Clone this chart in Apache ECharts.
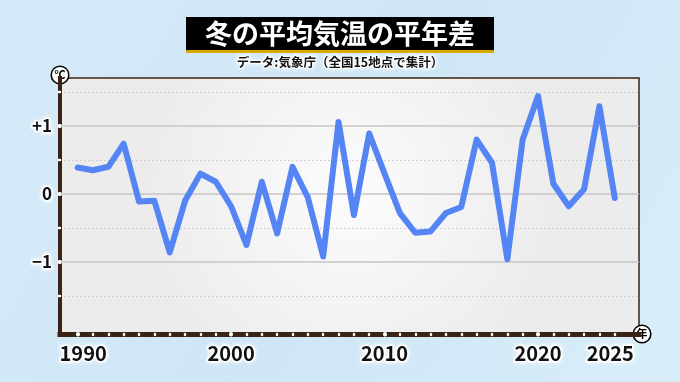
<!DOCTYPE html>
<html>
<head>
<meta charset="utf-8">
<script src="https://cdn.jsdelivr.net/npm/echarts@6/dist/echarts.min.js"></script>
<style>
html,body{margin:0;padding:0;background:#d3e9f8;}
#c{width:680px;height:382px;}
</style>
</head>
<body>
<div id="c"></div>
<script>
const titleText = '冬の平均気温の平年差';
const subtitleText = 'データ:気象庁（全国15地点で集計）';
const years = [1990,1991,1992,1993,1994,1995,1996,1997,1998,1999,
               2000,2001,2002,2003,2004,2005,2006,2007,2008,2009,
               2010,2011,2012,2013,2014,2015,2016,2017,2018,2019,
               2020,2021,2022,2023,2024,2025];
const anomalies = [0.39,0.35,0.40,0.74,-0.11,-0.10,-0.86,-0.10,0.30,0.18,
                   -0.18,-0.75,0.18,-0.58,0.40,-0.05,-0.92,1.06,-0.31,0.89,
                   0.30,-0.28,-0.57,-0.55,-0.28,-0.19,0.80,0.46,-0.96,0.80,
                   1.44,0.15,-0.18,0.07,1.29,-0.06];
const xLabelYears = [1990,2000,2010,2020,2025];
const xMajorYears = [1990,2000,2010,2020];
const yMajorTicks = [-1,0,1];
const yMinorTicks = [-1.5,-0.5,0.5,1.5];
const yUnit = '℃';
const xUnit = '年';

const FONT = '"Noto Sans CJK JP","Noto Sans",sans-serif';
const BROWN = '#3a2315';
const X_MIN = 1988.85, X_MAX = 2026.58;
const Y_MIN = -2.059, Y_MAX = 1.706;

const circleRich = {
  c: {
    fontFamily: FONT, fontSize: 11, fontWeight: 'bold', color: '#000',
    backgroundColor: '#fff', borderColor: '#000', borderWidth: 1.6,
    borderRadius: 9, width: 16, height: 16, lineHeight: 16,
    align: 'center', verticalAlign: 'middle', padding: 0
  }
};
const glowLabel = {
  fontFamily: FONT, fontWeight: 'bold', color: '#111',
  textBorderColor: 'rgba(255,255,255,0.95)', textBorderWidth: 3,
  textShadowColor: 'rgba(255,255,255,0.9)', textShadowBlur: 4
};
const xLabelRich = {
  n: Object.assign({fontSize: 20}, glowLabel),
  l: Object.assign({fontSize: 20, padding: [0, 0, 0, 11]}, glowLabel),
  r: Object.assign({fontSize: 20, padding: [0, 9, 0, 0]}, glowLabel)
};

const chart = echarts.init(document.getElementById('c'), null, {renderer: 'canvas'});
chart.setOption({
  animation: false,
  backgroundColor: {
    type: 'linear', x: 0, y: 0, x2: 1, y2: 1,
    colorStops: [{offset: 0, color: '#d6ebf9'}, {offset: 0.5, color: '#cfe6f6'}, {offset: 1, color: '#d9edf9'}]
  },
  title: [{
    text: titleText, left: 'center', top: 17,
    padding: [3, 19, 3, 19],
    backgroundColor: '#000',
    shadowColor: '#d9a800', shadowOffsetY: 3, shadowBlur: 0,
    textStyle: {fontFamily: FONT, fontSize: 27, fontWeight: 'bold', color: '#fff', lineHeight: 27}
  }, {
    text: subtitleText, left: 'center', top: 56,
    padding: 0,
    textStyle: Object.assign({}, glowLabel, {fontSize: 12.5, color: '#111', textBorderWidth: 2})
  }],
  grid: {
    left: 60, right: 41, top: 78, bottom: 48,
    show: true,
    backgroundColor: {
      type: 'radial', x: 0.5, y: 0.45, r: 0.8,
      colorStops: [{offset: 0, color: '#fcfcfc'}, {offset: 1, color: '#ececec'}]
    },
    borderColor: BROWN, borderWidth: 1.5
  },
  xAxis: [{
    type: 'value', min: X_MIN, max: X_MAX, position: 'bottom',
    name: '{c|' + xUnit + '}', nameLocation: 'end', nameGap: 3, nameMoveOverlap: false,
    nameTextStyle: {align: 'center', verticalAlign: 'middle', rich: circleRich},
    axisLine: {show: true, onZero: false, lineStyle: {color: BROWN, width: 5, cap: 'square'}},
    axisTick: {show: true, customValues: years, length: 1, inside: false,
               lineStyle: {color: '#fff', width: 2.4, cap: 'round'}},
    axisLabel: {show: true, customValues: xLabelYears, margin: 9,
               formatter: v => v === xLabelYears[0] ? '{l|' + v + '}' :
                               (v === xLabelYears[xLabelYears.length - 1] ? '{r|' + v + '}' : '{n|' + v + '}'),
               rich: xLabelRich},
    splitLine: {show: false}
  }, {
    type: 'value', min: X_MIN, max: X_MAX, position: 'bottom',
    axisLine: {show: false, onZero: false},
    axisTick: {show: true, customValues: xMajorYears, length: 0.5, inside: false,
               lineStyle: {color: '#fff', width: 4, cap: 'round'}},
    axisLabel: {show: false},
    splitLine: {show: false}
  }],
  yAxis: [{
    type: 'value', min: Y_MIN, max: Y_MAX, position: 'left',
    name: '{c|' + yUnit + '}', nameLocation: 'end', nameGap: 3, nameMoveOverlap: false,
    nameTextStyle: {align: 'center', verticalAlign: 'middle', rich: circleRich},
    axisLine: {show: true, onZero: false, lineStyle: {color: BROWN, width: 4, cap: 'square'}},
    axisTick: {show: true, customValues: yMajorTicks, length: 0.5, inside: false,
               lineStyle: {color: '#fff', width: 4, cap: 'round'}},
    axisLabel: Object.assign({show: true, customValues: yMajorTicks, margin: 8, fontSize: 17,
               formatter: v => v > 0 ? '+' + v : (v < 0 ? '−' + Math.abs(v) : '0')}, glowLabel),
    splitLine: {show: true, lineStyle: {color: '#c6c6c6', width: 1.5, type: 'solid'}}
  }, {
    type: 'value', min: Y_MIN, max: Y_MAX, position: 'left',
    axisLine: {show: false, onZero: false},
    axisTick: {show: true, customValues: yMinorTicks, length: 1, inside: false,
               lineStyle: {color: '#fff', width: 2.4, cap: 'round'}},
    axisLabel: {show: false},
    splitLine: {show: true, lineStyle: {color: '#c8c8c8', width: 1.2, type: [1.5, 2.5]}}
  }],
  series: [{
    type: 'line', xAxisIndex: 0, yAxisIndex: 0,
    data: years.map((y, i) => [y, anomalies[i]]),
    symbol: 'none', smooth: false,
    lineStyle: {color: '#5585f4', width: 6, cap: 'round', join: 'round'},
    z: 5
  }]
});
</script>
</body>
</html>
